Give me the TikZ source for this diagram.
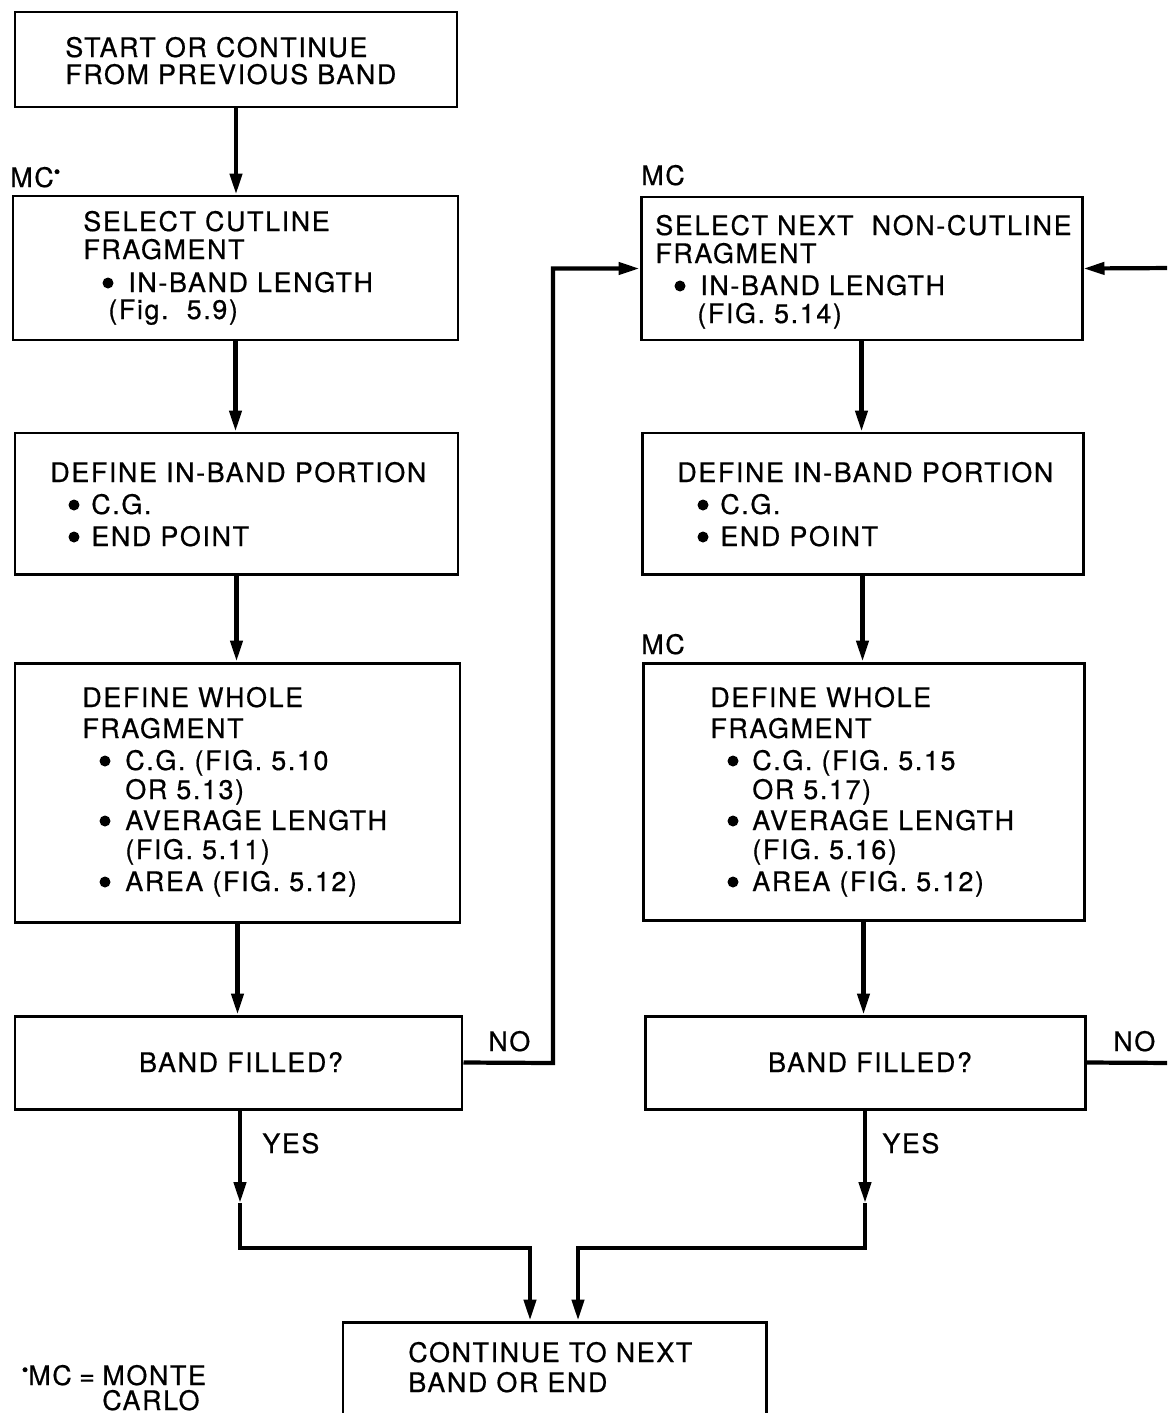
\documentclass[tikz,border=0pt]{standalone}
\usepackage{fontspec}
\setmainfont{TeX Gyre Heros}[LetterSpace=6,FakeBold=0.6]
\usetikzlibrary{arrows.meta,fit}
\tikzset{
  box/.style={draw, line width=1.7pt, inner sep=0pt, rectangle},
  txt/.style={anchor=base west, inner sep=0pt, font=\fontsize{15.3}{16}\selectfont},
  ctxt/.style={anchor=base, inner sep=0pt, font=\fontsize{15.3}{16}\selectfont},
  dot/.style={circle, fill, draw=none, inner sep=0pt, minimum size=0.22cm},
  conn/.style={line width=2.4pt},
  arr/.style={conn, -{Triangle[length=0.42cm,width=0.24cm]}},
}
\begin{document}
\begin{tikzpicture}[x=0.02cm,y=-0.02cm]
\useasboundingbox (0,0) rectangle (1167,1413);
\clip (0,0) rectangle (1167,1413);
% boxes
\node[box, fit={(15,12) (457,107)}] (b1) {};
\node[box, fit={(13,196) (458,340)}] (b2) {};
\node[box, fit={(15,433) (458,574)}] (b3) {};
\node[box, fit={(15,663) (460,922)}] (b4) {};
\node[box, fit={(15,1016) (462,1109)}] (b5) {};
\node[box, fit={(641,197) (1082,340)}] (b6) {};
\node[box, fit={(642,433) (1083,574)}] (b7) {};
\node[box, fit={(643,663) (1084,920)}] (b8) {};
\node[box, fit={(645,1016) (1085,1109)}] (b9) {};
\node[box, fit={(343,1322) (766,1460)}] (b10) {};
% texts
\node[txt] (t1a) at (65,57) {START OR CONTINUE};
\node[txt] (t1b) at (65,84) {FROM PREVIOUS BAND};
\node[txt] (mc1) at (10,187) {MC\raisebox{5pt}{\scalebox{0.7}{\textbullet}}};
\node[txt] (t2a) at (83,231) {SELECT CUTLINE};
\node[txt] (t2b) at (83,259) {FRAGMENT};
\node[dot] (d2c) at (108,283) {};
\node[txt] (t2c) at (128,292) {IN-BAND LENGTH};
\node[txt] (t2d) at (108,319) {(Fig.~~5.9)};
\node[txt] (t3a) at (50,482) {DEFINE IN-BAND PORTION};
\node[dot] (d3b) at (74,505) {};
\node[txt] (t3b) at (91,514) {C.G.};
\node[dot] (d3c) at (74,537) {};
\node[txt] (t3c) at (91,546) {END POINT};
\node[txt] (t4a) at (82,707) {DEFINE WHOLE};
\node[txt] (t4b) at (82,738) {FRAGMENT};
\node[dot] (d4c) at (105,761) {};
\node[txt] (t4c) at (125,770) {C.G. (FIG. 5.10};
\node[txt] (t4d) at (125,799) {OR 5.13)};
\node[dot] (d4e) at (105,821) {};
\node[txt] (t4e) at (125,830) {AVERAGE LENGTH};
\node[txt] (t4f) at (125,859) {(FIG. 5.11)};
\node[dot] (d4g) at (105,882) {};
\node[txt] (t4g) at (125,891) {AREA (FIG. 5.12)};
\node[ctxt] (t5) at (241,1072) {BAND FILLED?};
\node[txt] (no1) at (488,1051) {NO};
\node[txt] (yes1) at (262,1153) {YES};
\node[txt] (mc2) at (641,185) {MC};
\node[txt] (t6a) at (655,235) {SELECT NEXT~~NON-CUTLINE};
\node[txt] (t6b) at (655,263) {FRAGMENT};
\node[dot] (d6c) at (680,286) {};
\node[txt] (t6c) at (700,295) {IN-BAND LENGTH};
\node[txt] (t6d) at (697,323) {(FIG. 5.14)};
\node[txt] (t7a) at (677,482) {DEFINE IN-BAND PORTION};
\node[dot] (d7b) at (703,505) {};
\node[txt] (t7b) at (720,514) {C.G.};
\node[dot] (d7c) at (703,537) {};
\node[txt] (t7c) at (720,546) {END POINT};
\node[txt] (mc3) at (641,654) {MC};
\node[txt] (t8a) at (710,707) {DEFINE WHOLE};
\node[txt] (t8b) at (710,738) {FRAGMENT};
\node[dot] (d8c) at (733,761) {};
\node[txt] (t8c) at (752,770) {C.G. (FIG. 5.15};
\node[txt] (t8d) at (752,799) {OR 5.17)};
\node[dot] (d8e) at (733,821) {};
\node[txt] (t8e) at (752,830) {AVERAGE LENGTH};
\node[txt] (t8f) at (752,859) {(FIG. 5.16)};
\node[dot] (d8g) at (733,882) {};
\node[txt] (t8g) at (752,891) {AREA (FIG. 5.12)};
\node[ctxt] (t9) at (870,1072) {BAND FILLED?};
\node[txt] (no2) at (1113,1051) {NO};
\node[txt] (yes2) at (882,1153) {YES};
\node[txt] (t10a) at (408,1362) {CONTINUE TO NEXT};
\node[txt] (t10b) at (408,1392) {BAND OR END};
\node[txt] (fn1) at (28,1385) {\llap{\raisebox{5pt}{\scalebox{0.7}{\textbullet}}}MC\hspace{0.15cm}=\hspace{0.15cm}MONTE};
\node[txt] (fn2) at (102,1410) {CARLO};
% connectors
\draw[arr] (b1.south) -- (b1.south |- b2.north);
\draw[arr] (b2.south) -- (b2.south |- b3.north);
\draw[arr] (b3.south) -- (b3.south |- b4.north);
\draw[arr] (b4.south) -- (b4.south |- b5.north);
\draw[arr] (b6.south) -- (b6.south |- b7.north);
\draw[arr] (b7.south) -- (b7.south |- b8.north);
\draw[arr] (b8.south) -- (b8.south |- b9.north);
\coordinate (nL) at (553,1063);
\draw[arr] (b5.east) -- (nL) |- (b6.west);
\coordinate (eR1) at (1175,1063);
\coordinate (eR2) at (1175,268);
\draw[conn] (b9.east) -- (eR1);
\draw[arr] (eR2) -- (b6.east);
\coordinate (yL) at (240,1203);
\coordinate (kL) at (530,1248);
\draw[arr] (b5.south -| yL) -- (yL);
\draw[arr] (yL) |- (kL) -- (kL |- b10.north);
\coordinate (yR) at (865,1203);
\coordinate (kR) at (578,1248);
\draw[arr] (b9.south -| yR) -- (yR);
\draw[arr] (yR) |- (kR) -- (kR |- b10.north);
\end{tikzpicture}
\end{document}
